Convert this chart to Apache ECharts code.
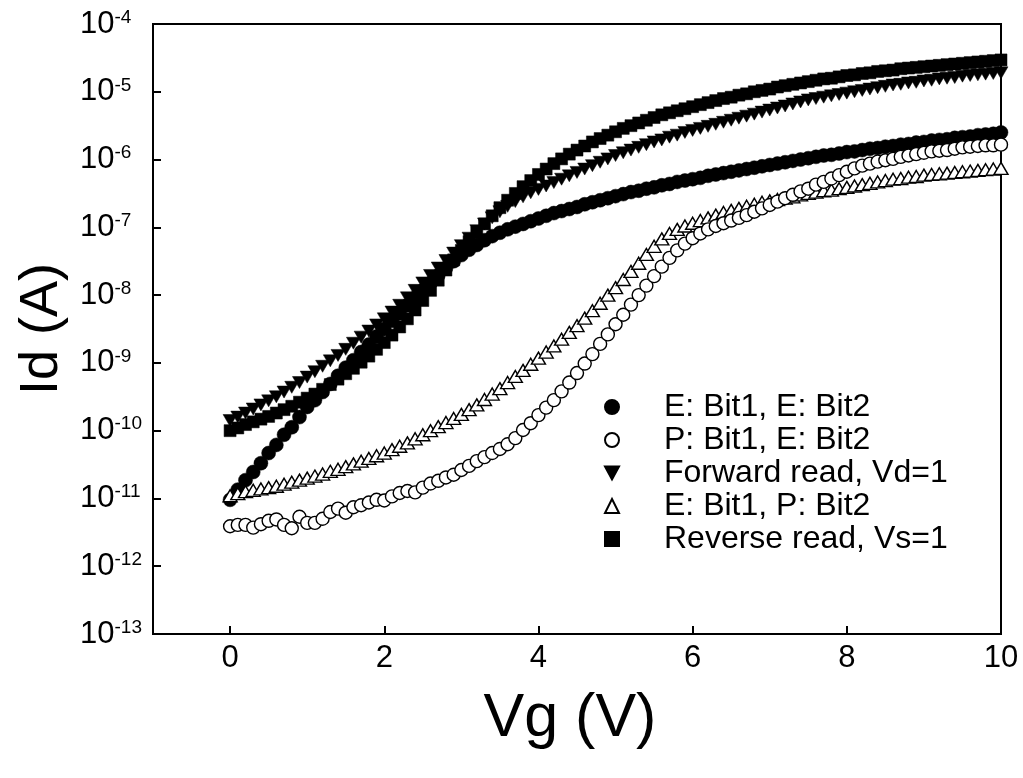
<!DOCTYPE html>
<html>
<head>
<meta charset="utf-8">
<title>Id–Vg transfer curves</title>
<script src="https://cdn.jsdelivr.net/npm/echarts@6/dist/echarts.min.js"></script>
<style>
  html, body { margin: 0; padding: 0; background: #fff; }
  #chart { width: 1023px; height: 778px; }
</style>
</head>
<body>
<div id="chart"></div>
<script>
// Gate voltage sweep (V), 0.1 V steps
const vg = [
  0.0, 0.1, 0.2, 0.3, 0.4, 0.5, 0.6, 0.7, 0.8, 0.9,
  1.0, 1.1, 1.2, 1.3, 1.4, 1.5, 1.6, 1.7, 1.8, 1.9,
  2.0, 2.1, 2.2, 2.3, 2.4, 2.5, 2.6, 2.7, 2.8, 2.9,
  3.0, 3.1, 3.2, 3.3, 3.4, 3.5, 3.6, 3.7, 3.8, 3.9,
  4.0, 4.1, 4.2, 4.3, 4.4, 4.5, 4.6, 4.7, 4.8, 4.9,
  5.0, 5.1, 5.2, 5.3, 5.4, 5.5, 5.6, 5.7, 5.8, 5.9,
  6.0, 6.1, 6.2, 6.3, 6.4, 6.5, 6.6, 6.7, 6.8, 6.9,
  7.0, 7.1, 7.2, 7.3, 7.4, 7.5, 7.6, 7.7, 7.8, 7.9,
  8.0, 8.1, 8.2, 8.3, 8.4, 8.5, 8.6, 8.7, 8.8, 8.9,
  9.0, 9.1, 9.2, 9.3, 9.4, 9.5, 9.6, 9.7, 9.8, 9.9, 10.0
];

// Drain current, stored as log10(Id / A)
const logIdEE = [
  -11.02, -10.87, -10.73, -10.61, -10.48, -10.33, -10.21, -10.06, -9.95, -9.80,
  -9.65, -9.55, -9.43, -9.31, -9.19, -9.07, -8.96, -8.84, -8.73, -8.61,
  -8.50, -8.38, -8.27, -8.15, -8.04, -7.93, -7.82, -7.71, -7.60, -7.50,
  -7.41, -7.33, -7.26, -7.19, -7.13, -7.08, -7.03, -6.99, -6.95, -6.91,
  -6.87, -6.83, -6.79, -6.76, -6.73, -6.70, -6.66, -6.63, -6.60, -6.57,
  -6.54, -6.51, -6.48, -6.46, -6.43, -6.41, -6.38, -6.36, -6.33, -6.31,
  -6.29, -6.27, -6.24, -6.22, -6.20, -6.18, -6.16, -6.14, -6.12, -6.10,
  -6.08, -6.06, -6.04, -6.02, -6.00, -5.98, -5.96, -5.94, -5.93, -5.91,
  -5.89, -5.88, -5.86, -5.84, -5.83, -5.81, -5.80, -5.78, -5.77, -5.75,
  -5.74, -5.72, -5.71, -5.70, -5.68, -5.67, -5.66, -5.64, -5.63, -5.62, -5.60
];

const logIdPE = [
  -11.41, -11.39, -11.39, -11.43, -11.38, -11.33, -11.31, -11.39, -11.44, -11.27,
  -11.36, -11.36, -11.30, -11.20, -11.15, -11.21, -11.13, -11.10, -11.06, -11.02,
  -11.03, -10.97, -10.92, -10.89, -10.91, -10.84, -10.78, -10.74, -10.69, -10.65,
  -10.58, -10.52, -10.45, -10.39, -10.33, -10.27, -10.20, -10.11, -9.99, -9.89,
  -9.77, -9.66, -9.55, -9.42, -9.29, -9.15, -9.01, -8.87, -8.72, -8.58,
  -8.43, -8.29, -8.14, -8.00, -7.86, -7.72, -7.58, -7.45, -7.34, -7.24,
  -7.16, -7.09, -7.03, -6.98, -6.94, -6.90, -6.86, -6.82, -6.77, -6.72,
  -6.67, -6.62, -6.57, -6.52, -6.47, -6.43, -6.37, -6.33, -6.28, -6.23,
  -6.18, -6.13, -6.09, -6.06, -6.03, -6.01, -5.99, -5.96, -5.94, -5.92,
  -5.90, -5.88, -5.87, -5.86, -5.84, -5.82, -5.81, -5.80, -5.79, -5.79, -5.78
];

const logIdForward = [
  -9.85, -9.80, -9.74, -9.68, -9.62, -9.56, -9.50, -9.43, -9.36, -9.29,
  -9.21, -9.13, -9.05, -8.97, -8.89, -8.80, -8.71, -8.62, -8.53, -8.44,
  -8.35, -8.25, -8.15, -8.04, -7.93, -7.82, -7.71, -7.60, -7.49, -7.38,
  -7.27, -7.16, -7.05, -6.95, -6.86, -6.77, -6.69, -6.62, -6.55, -6.49,
  -6.44, -6.39, -6.34, -6.29, -6.24, -6.19, -6.14, -6.09, -6.04, -5.99,
  -5.94, -5.90, -5.86, -5.82, -5.78, -5.74, -5.71, -5.67, -5.64, -5.60,
  -5.57, -5.54, -5.51, -5.48, -5.45, -5.42, -5.39, -5.36, -5.33, -5.30,
  -5.27, -5.24, -5.21, -5.18, -5.15, -5.12, -5.10, -5.08, -5.06, -5.04,
  -5.02, -5.00, -4.98, -4.96, -4.94, -4.92, -4.90, -4.89, -4.87, -4.86,
  -4.84, -4.83, -4.81, -4.80, -4.79, -4.77, -4.76, -4.75, -4.74, -4.73, -4.72
];

const logIdEP = [
  -10.96, -10.93, -10.90, -10.88, -10.86, -10.84, -10.82, -10.79, -10.76, -10.73,
  -10.70, -10.67, -10.64, -10.60, -10.57, -10.53, -10.49, -10.45, -10.41, -10.37,
  -10.33, -10.28, -10.23, -10.18, -10.12, -10.06, -10.00, -9.94, -9.88, -9.82,
  -9.76, -9.69, -9.62, -9.54, -9.46, -9.38, -9.29, -9.20, -9.11, -9.02,
  -8.93, -8.84, -8.75, -8.65, -8.55, -8.45, -8.34, -8.23, -8.12, -8.00,
  -7.89, -7.77, -7.65, -7.53, -7.40, -7.28, -7.17, -7.09, -7.03, -6.98,
  -6.94, -6.90, -6.86, -6.82, -6.78, -6.75, -6.72, -6.69, -6.66, -6.63,
  -6.61, -6.59, -6.57, -6.55, -6.52, -6.50, -6.48, -6.46, -6.45, -6.43,
  -6.41, -6.39, -6.37, -6.35, -6.33, -6.31, -6.29, -6.28, -6.26, -6.25,
  -6.23, -6.22, -6.21, -6.20, -6.19, -6.18, -6.17, -6.16, -6.15, -6.14, -6.13
];

const logIdReverse = [
  -10.00, -9.96, -9.91, -9.87, -9.83, -9.79, -9.74, -9.69, -9.64, -9.58,
  -9.52, -9.46, -9.39, -9.32, -9.24, -9.16, -9.08, -8.99, -8.90, -8.80,
  -8.70, -8.59, -8.47, -8.35, -8.22, -8.08, -7.93, -7.78, -7.63, -7.48,
  -7.34, -7.21, -7.08, -6.95, -6.83, -6.71, -6.60, -6.50, -6.40, -6.31,
  -6.22, -6.14, -6.06, -5.99, -5.92, -5.86, -5.80, -5.74, -5.69, -5.64,
  -5.59, -5.54, -5.50, -5.46, -5.42, -5.38, -5.34, -5.31, -5.28, -5.25,
  -5.22, -5.19, -5.16, -5.13, -5.10, -5.08, -5.05, -5.03, -5.00, -4.98,
  -4.96, -4.93, -4.91, -4.89, -4.87, -4.85, -4.83, -4.81, -4.80, -4.78,
  -4.76, -4.75, -4.73, -4.72, -4.70, -4.69, -4.68, -4.66, -4.65, -4.64,
  -4.63, -4.62, -4.61, -4.60, -4.59, -4.58, -4.57, -4.56, -4.55, -4.54, -4.53
];

const seriesNames = [
  'E: Bit1, E: Bit2',
  'P: Bit1, E: Bit2',
  'Forward read, Vd=1',
  'E: Bit1, P: Bit2',
  'Reverse read, Vs=1'
];

const xTickValues = [0, 2, 4, 6, 8, 10];

const FONT = '"Liberation Sans", Arial, Helvetica, sans-serif';

// downward-pointing triangle for the legend entry of the forward read
const DOWN_TRIANGLE = 'path://M0,0 L12,0 L6,11 Z';

function pairs(ys) {
  return vg.map((x, i) => [x, ys[i]]);
}

const filled = { color: '#000', borderColor: '#000', borderWidth: 0.5, opacity: 1 };
const hollow = { color: '#fff', borderColor: '#000', borderWidth: 1.4, opacity: 1 };

const chart = echarts.init(document.getElementById('chart'), null, { renderer: 'canvas' });

chart.setOption({
  animation: false,
  backgroundColor: '#fff',
  textStyle: { fontFamily: FONT, color: '#000' },
  grid: {
    left: 153, right: 22, top: 24, bottom: 144,
    show: true, borderColor: '#000', borderWidth: 2, backgroundColor: 'transparent'
  },
  legend: {
    orient: 'vertical',
    left: 599,
    top: 386,
    itemWidth: 14,
    itemHeight: 14,
    itemGap: 1,
    data: [
      { name: seriesNames[0] },
      { name: seriesNames[1] },
      { name: seriesNames[2], icon: DOWN_TRIANGLE },
      { name: seriesNames[3] },
      { name: seriesNames[4] }
    ],
    textStyle: {
      fontFamily: FONT, fontSize: 32, color: '#000',
      lineHeight: 26, padding: [0, 0, 0, 40]
    },
    selectedMode: false
  },
  xAxis: {
    type: 'value',
    min: -1,
    max: 10,
    name: 'Vg (V)',
    nameLocation: 'middle',
    nameGap: 55,
    nameTextStyle: { fontFamily: FONT, fontSize: 61, color: '#000', padding: [0, 14, 0, 0] },
    axisLine: { show: true, onZero: false, lineStyle: { color: '#000', width: 2 } },
    axisTick: {
      show: true, inside: true, length: 8,
      customValues: xTickValues,
      lineStyle: { color: '#000', width: 2 }
    },
    axisLabel: {
      show: true, margin: 9,
      customValues: xTickValues,
      fontFamily: FONT, fontSize: 31, color: '#000'
    },
    splitLine: { show: false }
  },
  yAxis: {
    type: 'value',
    min: -13,
    max: -4,
    interval: 1,
    name: 'Id (A)',
    nameLocation: 'middle',
    nameGap: 80,
    nameTextStyle: { fontFamily: FONT, fontSize: 54, color: '#000' },
    axisLine: { show: true, onZero: false, lineStyle: { color: '#000', width: 2 } },
    axisTick: { show: true, inside: true, length: 8, lineStyle: { color: '#000', width: 2 } },
    axisLabel: {
      show: true,
      margin: 73,
      align: 'left',
      formatter: v => '{b|10}{s|' + v + '}',
      rich: {
        b: { fontFamily: FONT, fontSize: 31, color: '#000', lineHeight: 32 },
        s: { fontFamily: FONT, fontSize: 19, color: '#000', lineHeight: 19, verticalAlign: 'top' }
      }
    },
    splitLine: { show: false }
  },
  series: [
    {
      name: seriesNames[0], type: 'scatter', symbol: 'circle', symbolSize: 14, z: 2,
      itemStyle: filled, data: pairs(logIdEE)
    },
    {
      name: seriesNames[1], type: 'scatter', symbol: 'circle', symbolSize: 13, z: 4,
      itemStyle: hollow, data: pairs(logIdPE)
    },
    {
      name: seriesNames[2], type: 'scatter', symbol: 'triangle', symbolRotate: 180, z: 2,
      symbolSize: [14, 12], itemStyle: filled, data: pairs(logIdForward)
    },
    {
      name: seriesNames[3], type: 'scatter', symbol: 'triangle', z: 3,
      symbolSize: [14, 12], itemStyle: hollow, data: pairs(logIdEP)
    },
    {
      name: seriesNames[4], type: 'scatter', symbol: 'rect', symbolSize: 12, z: 2,
      itemStyle: filled, data: pairs(logIdReverse)
    }
  ]
});
</script>
</body>
</html>
